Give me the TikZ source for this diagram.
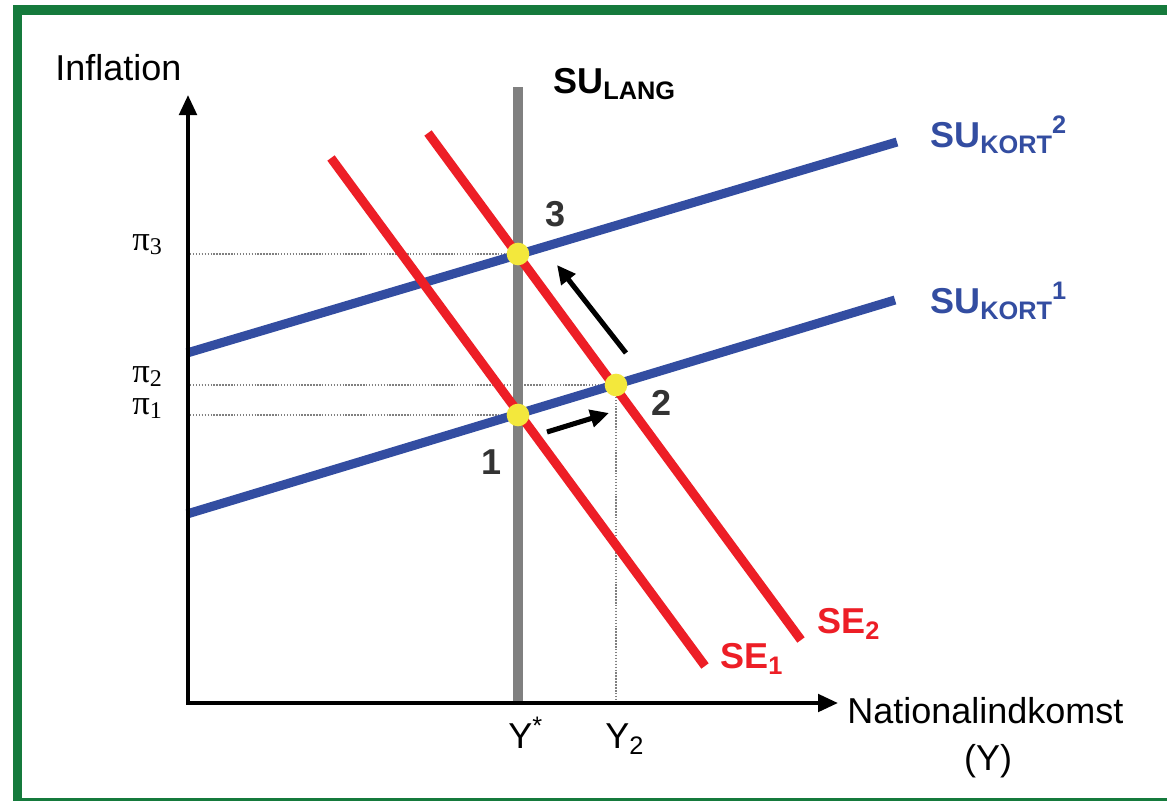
\documentclass[tikz,border=0pt]{standalone}
\usepackage{fontspec}
\setmainfont{Liberation Sans}
\newfontfamily\serifpi{Liberation Serif}
\usetikzlibrary{arrows.meta}
\definecolor{frameg}{RGB}{21,122,60}
\definecolor{sublue}{RGB}{51,77,161}
\definecolor{sered}{RGB}{237,30,38}
\definecolor{dotyel}{RGB}{243,232,60}
\definecolor{lgray}{RGB}{128,128,128}
\definecolor{numgray}{RGB}{51,51,51}
\tikzset{
  axisline/.style={line width=3pt, black, -{Triangle[length=15pt,width=13pt]}},
  bluecurve/.style={line width=6.8pt, sublue},
  redcurve/.style={line width=6.8pt, sered},
  longrun/.style={line width=7.5pt, lgray},
  guide/.style={line width=1.1pt, lgray, dash pattern=on 1.1pt off 1.1pt},
  eqdot/.style={circle, fill=dotyel, inner sep=0pt, minimum size=17pt},
  moveline/.style={line width=3.8pt, black, -{Triangle[length=14pt,width=13pt]}},
  maintext/.style={inner sep=0pt, font=\fontsize{27}{30}\selectfont},
  boldlab/.style={inner sep=0pt, font=\fontsize{27}{30}\selectfont\bfseries},
  numlab/.style={inner sep=0pt, font=\fontsize{27}{30}\selectfont\bfseries, text=numgray},
  pilab/.style={inner sep=0pt, font=\fontsize{26}{28}\selectfont\serifpi}
}
\newcommand{\smallsub}[1]{\raisebox{-4.5pt}{\fontsize{19}{20}\selectfont #1}}
\newcommand{\smallsup}[1]{\raisebox{10.5pt}{\fontsize{19}{20}\selectfont #1}}
\newcommand{\pisub}[1]{\raisebox{-3.5pt}{\fontsize{18}{18}\selectfont #1}}
\begin{document}
\begin{tikzpicture}[x=0.75pt,y=-0.75pt]
\useasboundingbox (0,0) rectangle (1167,800);
\clip (0,0) rectangle (1167,800);
\fill[white] (0,0) rectangle (1167,800);
\draw[frameg, line width=6.8pt] (17.5,10) rectangle (1180,803);

% coordinates
\coordinate (O) at (188,703);
\coordinate (Ytop) at (188,95);
\coordinate (Xend) at (838,703);
\coordinate (Ltop) at (518,87);
\coordinate (Lbot) at (518,703);
\coordinate (K1a) at (187,514);
\coordinate (K1b) at (895,300);
\coordinate (K2a) at (187,353);
\coordinate (K2b) at (897,142);
\coordinate (S1a) at (331,158);
\coordinate (S1b) at (705,666);
\coordinate (S2a) at (428,133);
\coordinate (S2b) at (801,640);
\coordinate (G3) at (190,254);
\coordinate (G2) at (190,385);
\coordinate (G1) at (190,415);
\coordinate (GY2) at (616,703);

% guides
\draw[guide] (G3) -- (518,254);
\draw[guide] (G2) -- (616,385);
\draw[guide] (G1) -- (518,415);
\draw[guide] (616,385) -- (GY2);

% long-run line
\draw[longrun] (Ltop) -- (Lbot);

% curves
\draw[bluecurve] (K1a) -- (K1b);
\draw[bluecurve] (K2a) -- (K2b);
\draw[redcurve] (S1a) -- (S1b);
\draw[redcurve] (S2a) -- (S2b);

% axes
\draw[axisline] (O) -- (Ytop);
\draw[axisline] ([xshift=-1.5pt]O) -- (Xend);

% equilibrium points
\node[eqdot] (p3) at (518,254) {};
\node[eqdot] (p2) at (616,385) {};
\node[eqdot] (p1) at (518,415) {};

% movement arrows
\coordinate (m1a) at (547,432);
\coordinate (m1b) at (609,413);
\coordinate (m2a) at (626,353);
\coordinate (m2b) at (557,265);
\draw[moveline] (m1a) -- (m1b);
\draw[moveline] (m2a) -- (m2b);

% labels
\node[maintext, anchor=base west] (inf) at (55,80) {Inflation};
\node[maintext, anchor=base west] (nat) at (847,723) {Nationalindkomst};
\node[maintext, anchor=base] (yy) at (988,770) {(Y)};
\node[maintext, anchor=base west] (ystar) at (508,748) {Y\smallsup{*}};
\node[maintext, anchor=base west] (ytwo) at (605,748) {Y\smallsub{2}};

\node[boldlab, anchor=base west] (sulang) at (553,93) {SU\smallsub{LANG}};
\node[boldlab, anchor=base west, text=sublue] (suk2) at (930,147) {SU\smallsub{KORT}\smallsup{2}};
\node[boldlab, anchor=base west, text=sublue] (suk1) at (930,313) {SU\smallsub{KORT}\smallsup{1}};
\node[boldlab, anchor=base west, text=sered] (se2) at (817,633) {SE\smallsub{2}};
\node[boldlab, anchor=base west, text=sered] (se1) at (720,668) {SE\smallsub{1}};

\node[numlab] (n3) at (556,214) {3};
\node[numlab] (n2) at (662,403) {2};
\node[numlab] (n1) at (492,462) {1};

\node[pilab, anchor=base west] (pi3) at (132,250) {π\pisub{3}};
\node[pilab, anchor=base west] (pi2) at (132,382) {π\pisub{2}};
\node[pilab, anchor=base west] (pi1) at (132,414) {π\pisub{1}};
\end{tikzpicture}
\end{document}
